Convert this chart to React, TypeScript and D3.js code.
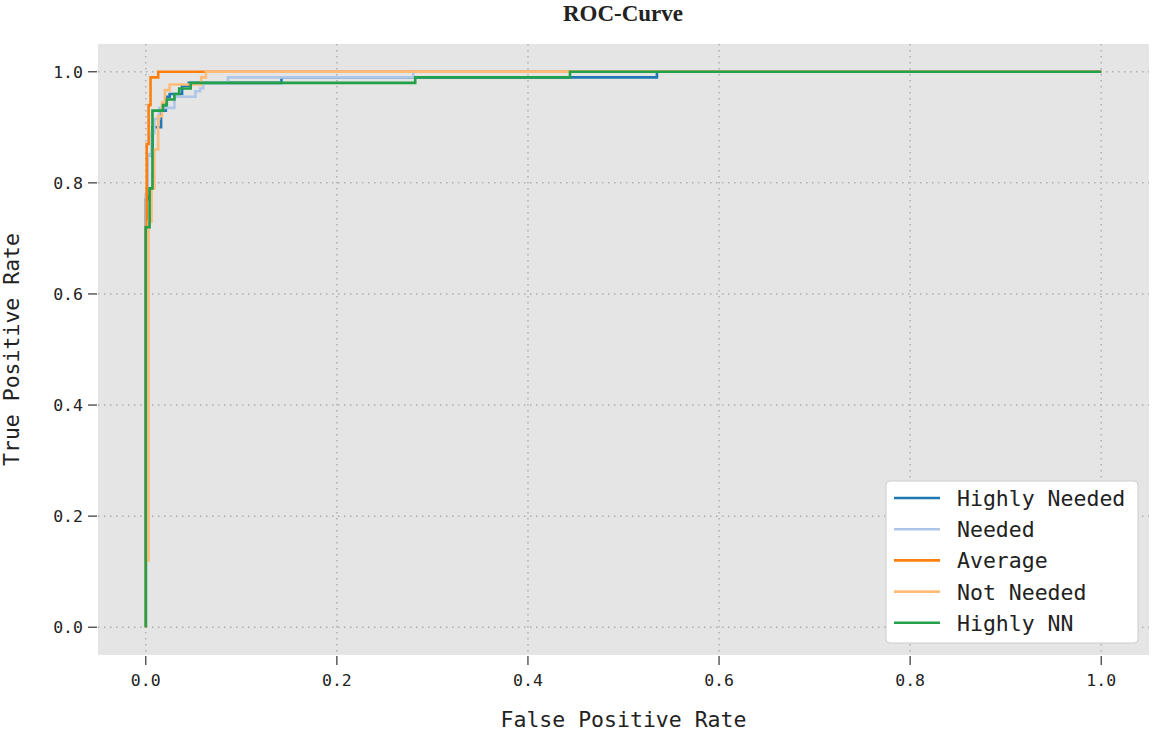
import React from "react";
import * as d3 from "d3";

// ROC points [fpr, tpr] per class
const highlyNeeded: [number, number][] = [
  [0, 0], [0, 0.77], [0.002, 0.77], [0.002, 0.85], [0.007, 0.85], [0.007, 0.9],
  [0.016, 0.9], [0.016, 0.93], [0.021, 0.93], [0.021, 0.955], [0.025, 0.955],
  [0.025, 0.96], [0.038, 0.96], [0.038, 0.975], [0.045, 0.975], [0.045, 0.98],
  [0.142, 0.98], [0.142, 0.99], [0.535, 0.99], [0.535, 1], [1, 1],
];
const needed: [number, number][] = [
  [0, 0], [0, 0.78], [0.002, 0.78], [0.002, 0.85], [0.006, 0.85], [0.006, 0.89],
  [0.009, 0.89], [0.009, 0.915], [0.014, 0.915], [0.014, 0.935], [0.03, 0.935],
  [0.03, 0.955], [0.052, 0.955], [0.052, 0.965], [0.057, 0.965], [0.057, 0.97],
  [0.06, 0.97], [0.06, 0.98], [0.086, 0.98], [0.086, 0.99], [0.28, 0.99], [0.28, 1], [1, 1],
];
const average: [number, number][] = [
  [0, 0], [0, 0.72], [0.001, 0.72], [0.001, 0.87], [0.003, 0.87], [0.003, 0.94],
  [0.005, 0.94], [0.005, 0.99], [0.013, 0.99], [0.013, 1], [1, 1],
];
const notNeeded: [number, number][] = [
  [0, 0], [0, 0.12], [0.003, 0.12], [0.003, 0.73], [0.006, 0.73], [0.006, 0.79],
  [0.009, 0.79], [0.009, 0.86], [0.013, 0.86], [0.013, 0.92], [0.017, 0.92],
  [0.017, 0.945], [0.02, 0.945], [0.02, 0.967], [0.025, 0.967], [0.025, 0.977],
  [0.058, 0.977], [0.058, 0.99], [0.063, 0.99], [0.063, 1], [1, 1],
];
const highlyNN: [number, number][] = [
  [0, 0], [0, 0.72], [0.004, 0.72], [0.004, 0.79], [0.007, 0.79], [0.007, 0.93],
  [0.018, 0.93], [0.018, 0.94], [0.022, 0.94], [0.022, 0.95], [0.03, 0.95],
  [0.03, 0.96], [0.035, 0.96], [0.035, 0.97], [0.047, 0.97], [0.047, 0.98],
  [0.282, 0.98], [0.282, 0.99], [0.444, 0.99], [0.444, 1], [1, 1],
];

const classNames = ["Highly Needed", "Needed", "Average", "Not Needed", "Highly NN"];
const classColors = ["#1f77b4", "#aec7e8", "#ff7f0e", "#ffbb78", "#22a04a"];
const curves = [highlyNeeded, needed, average, notNeeded, highlyNN];
const ticks = [0, 0.2, 0.4, 0.6, 0.8, 1.0];

const W = 1155;
const H = 732;
const left = 98, right = 1149, top = 44, bottom = 655;
const mono = "'DejaVu Sans Mono', monospace";

export default function App() {
  const x = d3.scaleLinear().domain([-0.05, 1.05]).range([left, right]);
  const y = d3.scaleLinear().domain([-0.05, 1.05]).range([bottom, top]);
  const line = d3.line<[number, number]>().x(d => x(d[0])).y(d => y(d[1]));

  return (
    <svg width={W} height={H} style={{ position: "absolute", left: 0, top: 0, background: "#fff" }}>
      <text x={623} y={21} textAnchor="middle" fontFamily="'Liberation Serif', serif"
        fontWeight="bold" fontSize={23} fill="#222">ROC-Curve</text>

      <rect x={left} y={top} width={right - left} height={bottom - top} fill="#e5e5e5" />

      {/* grid */}
      {ticks.map(t => (
        <g key={"g" + t}>
          <line x1={x(t)} x2={x(t)} y1={top} y2={bottom} stroke="#b0b0b0" strokeWidth={1.5} strokeDasharray="1.5,4.5" />
          <line x1={left} x2={right} y1={y(t)} y2={y(t)} stroke="#b0b0b0" strokeWidth={1.5} strokeDasharray="1.5,4.5" />
        </g>
      ))}

      {/* curves */}
      {curves.map((c, i) => (
        <path key={classNames[i]} d={line(c) || ""} fill="none" stroke={classColors[i]}
          strokeWidth={2.6} strokeLinejoin="miter" />
      ))}

      {/* x axis */}
      {ticks.map(t => (
        <g key={"x" + t}>
          <line x1={x(t)} x2={x(t)} y1={bottom + 1} y2={bottom + 10} stroke="#333" strokeWidth={1.2} />
          <text x={x(t)} y={686} textAnchor="middle" fontFamily={mono} fontSize={16.5} fill="#222">{t.toFixed(1)}</text>
        </g>
      ))}
      {/* y axis */}
      {ticks.map(t => (
        <g key={"y" + t}>
          <line x1={left - 10} x2={left - 1} y1={y(t)} y2={y(t)} stroke="#333" strokeWidth={1.2} />
          <text x={83} y={y(t) + 6} textAnchor="end" fontFamily={mono} fontSize={16.5} fill="#222">{t.toFixed(1)}</text>
        </g>
      ))}

      <text x={(left + right) / 2} y={727} textAnchor="middle" fontFamily={mono} fontSize={21.5} fill="#222">False Positive Rate</text>
      <text transform={`translate(19,${(top + bottom) / 2}) rotate(-90)`} textAnchor="middle"
        fontFamily={mono} fontSize={21.5} fill="#222">True Positive Rate</text>

      {/* legend */}
      <rect x={886} y={481} width={252} height={162} rx={4} fill="#fff" stroke="#cccccc" />
      {classNames.map((n, i) => (
        <g key={"l" + n} transform={`translate(0,${498 + i * 31.2})`}>
          <line x1={894} x2={940} y1={0} y2={0} stroke={classColors[i]} strokeWidth={2.6} />
          <text x={957} y={8} fontFamily={mono} fontSize={21.5} fill="#222">{n}</text>
        </g>
      ))}
    </svg>
  );
}
